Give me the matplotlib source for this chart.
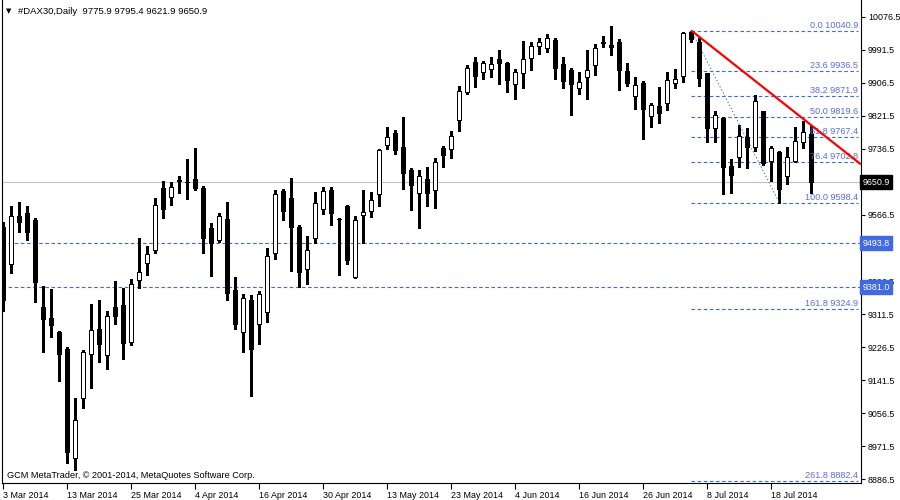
import matplotlib
matplotlib.use('Agg')
import matplotlib.pyplot as plt
from matplotlib.patches import Rectangle

plt.rcParams['font.family'] = ['Liberation Sans', 'DejaVu Sans']
plt.rcParams['lines.scale_dashes'] = False

# ---------------- data ----------------
opens = [9535.5, 9439.6, 9563.8, 9571.6, 9553.5, 9329.7, 9301.4, 9265.4, 9221.7, 8940.5,
         9094.9, 9208.1, 9273.1, 9205.5, 9329.7, 9334.9, 9240.5, 9400.0, 9442.2, 9476.4,
         9635.1, 9611.9, 9657.0, 9652.1, 9658.3, 9635.1, 9532.2, 9502.9, 9555.3, 9372.7,
         9266.2, 9347.0, 9285.2, 9316.1, 9467.9, 9627.4, 9609.4, 9534.8, 9426.7, 9506.5,
         9581.1, 9630.7, 9556.1, 9589.6, 9406.1, 9565.6, 9575.9, 9619.7, 9745.7, 9777.4,
         9741.3, 9682.2, 9622.2, 9659.0, 9630.0, 9738.8, 9735.4, 9810.0, 9883.6, 9959.2,
         9935.1, 9941.2, 9967.0, 9957.4, 9904.2, 9930.9, 9969.5, 10000.4, 9995.2, 10015.8,
         9954.9, 9939.4, 9892.4, 9920.6, 9951.5, 10011.5, 10003.7, 10010.7, 9936.9, 9873.3,
         9906.0, 9821.9, 9846.8, 9853.8, 9905.2, 9923.2, 10037.2, 10012.2, 9931.7, 9789.4,
         9816.7, 9692.5, 9714.8, 9767.8, 9741.3, 9834.0, 9706.1, 9728.5, 9666.0, 9705.3,
         9753.4, 9775.9]
highs = [9548.4, 9589.6, 9599.9, 9589.6, 9558.7, 9383.8, 9376.8, 9268.0, 9226.8, 9094.9,
         9219.1, 9337.5, 9347.7, 9318.7, 9396.6, 9378.6, 9401.0, 9508.0, 9487.4, 9610.1,
         9653.9, 9651.3, 9666.7, 9710.5, 9738.8, 9641.0, 9545.8, 9571.6, 9599.9, 9406.9,
         9363.2, 9361.4, 9370.1, 9480.7, 9630.0, 9633.3, 9661.6, 9540.7, 9512.4, 9625.6,
         9638.4, 9638.4, 9557.9, 9591.4, 9563.8, 9630.7, 9625.6, 9736.2, 9792.0, 9785.1,
         9818.5, 9686.5, 9681.4, 9689.9, 9712.3, 9743.9, 9783.3, 9898.3, 9952.3, 9972.1,
         9962.6, 9972.9, 9990.9, 9960.0, 9941.2, 10014.0, 10011.5, 10021.0, 10032.0, 10022.5,
         9972.1, 9944.6, 9935.1, 9990.9, 10006.3, 10026.9, 10052.6, 10018.4, 9956.7, 9921.4,
         9910.4, 9854.5, 9895.7, 9933.5, 9942.0, 10038.0, 10040.9, 10021.0, 9932.5, 9834.7,
         9818.5, 9710.5, 9797.9, 9789.4, 9875.1, 9834.7, 9744.7, 9731.1, 9742.1, 9793.6,
         9808.2, 9795.4]
lows = [9319.5, 9416.4, 9521.9, 9502.1, 9343.4, 9213.2, 9253.3, 9140.2, 8927.7, 8910.4,
        9070.7, 9122.1, 9189.0, 9171.0, 9286.8, 9196.7, 9232.0, 9377.8, 9412.1, 9469.4,
        9559.5, 9592.9, 9623.8, 9608.3, 9631.5, 9469.4, 9410.3, 9497.0, 9348.5, 9273.9,
        9213.2, 9101.6, 9235.3, 9291.9, 9452.5, 9554.3, 9423.1, 9382.0, 9388.1, 9493.6,
        9569.8, 9541.5, 9412.8, 9441.1, 9404.0, 9493.6, 9562.0, 9590.3, 9737.0, 9724.1,
        9634.1, 9580.0, 9533.7, 9590.3, 9585.2, 9690.7, 9713.0, 9783.3, 9878.5, 9896.5,
        9916.3, 9922.2, 9904.2, 9883.6, 9865.6, 9893.1, 9939.4, 9981.4, 9985.0, 9916.3,
        9892.4, 9824.4, 9878.5, 9864.1, 9925.8, 9997.8, 9978.8, 9888.0, 9898.3, 9839.9,
        9762.7, 9792.8, 9803.9, 9837.3, 9893.9, 9909.3, 10012.0, 9898.3, 9753.4, 9753.4,
        9619.7, 9623.8, 9690.7, 9687.3, 9731.1, 9695.0, 9654.6, 9598.4, 9646.9, 9703.5,
        9738.8, 9621.9]
closes = [9347.7, 9563.1, 9549.2, 9523.4, 9394.8, 9299.6, 9284.2, 9209.6, 8957.5, 9039.0,
          9214.0, 9269.8, 9233.8, 9306.6, 9307.4, 9236.4, 9388.1, 9419.0, 9465.3, 9591.4,
          9582.6, 9637.7, 9654.0, 9651.3, 9636.6, 9508.0, 9495.2, 9563.1, 9365.0, 9286.8,
          9352.9, 9222.5, 9363.2, 9460.2, 9620.4, 9575.9, 9536.3, 9419.0, 9475.6, 9596.5,
          9628.2, 9572.3, 9555.3, 9451.4, 9553.5, 9573.4, 9605.0, 9733.6, 9766.3, 9734.4,
          9675.2, 9644.4, 9666.0, 9623.8, 9702.0, 9721.5, 9769.6, 9885.4, 9943.8, 9924.8,
          9956.7, 9954.1, 9958.2, 9914.5, 9933.5, 9967.0, 10000.4, 10010.7, 10021.0, 9945.3,
          9910.4, 9902.6, 9908.6, 9938.7, 9995.2, 10008.9, 9997.8, 9940.2, 9906.8, 9900.1,
          9839.9, 9848.6, 9829.6, 9912.9, 9915.5, 10033.8, 10018.4, 9919.6, 9789.4, 9823.7,
          9690.7, 9670.1, 9768.9, 9740.6, 9858.9, 9701.0, 9738.0, 9634.1, 9715.6, 9756.8,
          9779.2, 9650.9]

date_tick_bars = [0, 8, 16, 24, 32, 40, 48, 56, 64, 72, 80, 88, 96]
date_labels = ['3 Mar 2014', '13 Mar 2014', '25 Mar 2014', '4 Apr 2014', '16 Apr 2014',
               '30 Apr 2014', '13 May 2014', '23 May 2014', '4 Jun 2014', '16 Jun 2014',
               '26 Jun 2014', '8 Jul 2014', '18 Jul 2014']
price_ticks = [8886.5, 8971.5, 9056.5, 9141.5, 9226.5, 9311.5, 9396.5, 9481.5,
               9566.5, 9651.5, 9736.5, 9821.5, 9906.5, 9991.5, 10076.5]
# labels hidden behind the price boxes on the right axis
price_tick_show = [True, True, True, True, True, True, True, False,
                   True, False, True, True, True, True, True]

bid_price = 9650.9
hlines = [9493.8, 9381.0]

fib_levels = [0.0, 23.6, 38.2, 50.0, 61.8, 76.4, 100.0, 161.8, 261.8]
fib_prices = [10040.9, 9936.5, 9871.9, 9819.6, 9767.4, 9702.8, 9598.4, 9324.9, 8882.4]
fib_start_bar = 86
fib_end_bar = 97

trend_bars = [86, 99]
trend_prices = [10040.9, 9829.8]

title = '#DAX30,Daily  9775.9 9795.4 9621.9 9650.9'
copyright_txt = 'GCM MetaTrader, \u00a9 2001-2014, MetaQuotes Software Corp.'

# ---------------- layout ----------------
W, H = 900, 500
fig = plt.figure(figsize=(9, 5), dpi=100)
ax_l, ax_r, ax_t, ax_b = 2, 861, 0, 482.5
ax = fig.add_axes([ax_l / W, 1 - ax_b / H, (ax_r - ax_l) / W, (ax_b - ax_t) / H])

bar_px = 8.0
x0_px = 3.3
ax.set_xlim((ax_l - x0_px) / bar_px, (ax_r - x0_px) / bar_px)
ax.set_ylim(8878.2, 10119.5)

FS = 6.4
BLUE = '#4169E1'
FIBTXT = '#5A6CE8'

# candles
n = len(opens)
xs = list(range(n))
ax.vlines(xs, lows, highs, color='black', linewidth=0.75, zorder=3, antialiased=False)
for i in xs:
    o, c = opens[i], closes[i]
    bottom = min(o, c)
    height = abs(c - o)
    fc = 'white' if c > o else 'black'
    ax.add_patch(Rectangle((i - 0.24, bottom), 0.48, height, facecolor=fc,
                           edgecolor='black', linewidth=0.72, zorder=4, antialiased=False))

# bid line
ax.axhline(bid_price, color='#C0C0C0', linewidth=0.8, zorder=2)

# horizontal dashed lines
for p in hlines:
    ax.axhline(p, color=BLUE, linewidth=0.8, dashes=(2.6, 1.8), zorder=2)

# fibonacci levels
fib_x_end = (858 - x0_px) / bar_px
for lvl, p in zip(fib_levels, fib_prices):
    ax.plot([fib_start_bar, fib_x_end], [p, p], color=BLUE, linewidth=0.8,
            dashes=(2.6, 1.8), zorder=2)
    ax.text(fib_x_end, p + 2.0, f'{lvl:.1f} {p:.1f}', color=FIBTXT, fontsize=6.6,
            ha='right', va='bottom', zorder=5)
# fib diagonal
ax.plot([fib_start_bar, fib_end_bar], [fib_prices[0], fib_prices[6]], color=BLUE,
        linewidth=0.7, dashes=(1.0, 1.5), zorder=3)

# red trend line (ray to the right)
slope = (trend_prices[1] - trend_prices[0]) / (trend_bars[1] - trend_bars[0])
x_end = ax.get_xlim()[1]
ax.plot([trend_bars[0], x_end], [trend_prices[0], trend_prices[0] + slope * (x_end - trend_bars[0])],
        color='#FF0000', linewidth=1.6, zorder=6, solid_capstyle='butt')

# axes styling
ax.spines['top'].set_visible(False)
for s in ['left', 'right', 'bottom']:
    ax.spines[s].set_linewidth(0.8)
    ax.spines[s].set_color('black')

ax.yaxis.tick_right()
ax.set_yticks(price_ticks)
ax.set_yticklabels([f'{p:.1f}' if show else '' for p, show in zip(price_ticks, price_tick_show)],
                   fontsize=FS)
ax.tick_params(axis='y', direction='out', length=3, width=0.8, pad=2, colors='black')

ax.set_xticks(date_tick_bars)
ax.set_xticklabels(date_labels, fontsize=FS, ha='left')
ax.tick_params(axis='x', direction='out', length=4, width=0.8, pad=2, colors='black')

# right-axis price boxes
ytr = ax.get_yaxis_transform()
ax.text(1.0015, bid_price, f'{bid_price:.1f}', transform=ytr, fontsize=FS, color='white',
        ha='left', va='center', zorder=10, clip_on=False,
        bbox=dict(boxstyle='square,pad=0.25', facecolor='black', edgecolor='black'))
for p in hlines:
    ax.text(1.0015, p, f'{p:.1f}', transform=ytr, fontsize=FS, color='white',
            ha='left', va='center', zorder=10, clip_on=False,
            bbox=dict(boxstyle='square,pad=0.25', facecolor=BLUE, edgecolor=BLUE))

# header & copyright
fig.text(6 / W, 1 - 11.5 / H, '\u25bc', fontsize=5, color='black', va='center', ha='left',
         family=['DejaVu Sans'])
fig.text(18 / W, 1 - 11.5 / H, title, fontsize=6.8, color='black', va='center', ha='left')
fig.text(7 / W, 1 - 475 / H, copyright_txt, fontsize=6.6, color='black', va='center', ha='left')

fig.savefig('out.png', dpi=100, facecolor='white')
